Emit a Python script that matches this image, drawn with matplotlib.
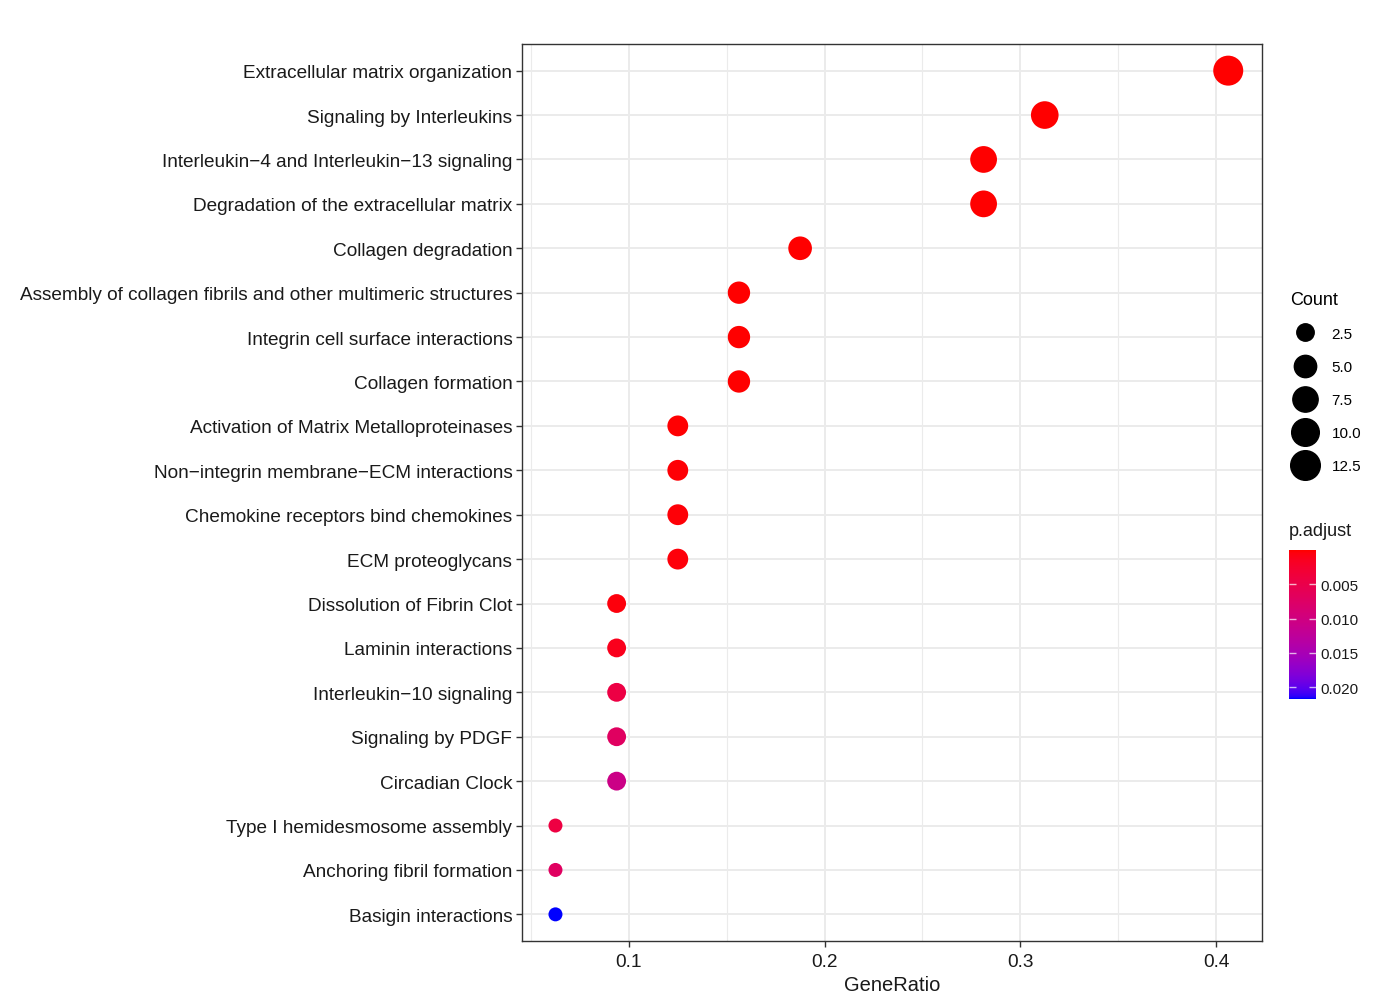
import numpy as np
import matplotlib
matplotlib.use('Agg')
import matplotlib.pyplot as plt
from matplotlib.colors import ListedColormap, Normalize
from matplotlib.lines import Line2D

plt.rcParams['font.family'] = ['Liberation Sans', 'DejaVu Sans']

# data
terms = ['Extracellular matrix organization', 'Signaling by Interleukins',
         'Interleukin\u22124 and Interleukin\u221213 signaling',
         'Degradation of the extracellular matrix', 'Collagen degradation',
         'Assembly of collagen fibrils and other multimeric structures',
         'Integrin cell surface interactions', 'Collagen formation',
         'Activation of Matrix Metalloproteinases',
         'Non\u2212integrin membrane\u2212ECM interactions',
         'Chemokine receptors bind chemokines', 'ECM proteoglycans',
         'Dissolution of Fibrin Clot', 'Laminin interactions',
         'Interleukin\u221210 signaling', 'Signaling by PDGF', 'Circadian Clock',
         'Type I hemidesmosome assembly', 'Anchoring fibril formation',
         'Basigin interactions']
counts = [13, 10, 9, 9, 6, 5, 5, 5, 4, 4, 4, 4, 3, 3, 3, 3, 3, 2, 2, 2]
gene_ratio = [c / 32 for c in counts]
p_adjust = [1e-9, 1e-7, 2e-6, 5e-6, 1e-5, 3e-5, 5e-5, 6e-5, 1e-4, 2e-4, 3e-4, 4e-4,
            0.0005, 0.0012, 0.0044, 0.0070, 0.0106, 0.0042, 0.0070, 0.0217]
size_breaks = [2.5, 5.0, 7.5, 10.0, 12.5]
cbar_ticks = [0.005, 0.010, 0.015, 0.020]

# red -> blue gradient interpolated in CIELAB (like ggplot)
M = np.array([[0.4124, 0.3576, 0.1805], [0.2126, 0.7152, 0.0722], [0.0193, 0.1192, 0.9505]])
WHITE = np.array([0.95047, 1.0, 1.08883])
def srgb_to_lab(rgb):
    rgb = np.asarray(rgb, float)
    lin = np.where(rgb <= 0.04045, rgb / 12.92, ((rgb + 0.055) / 1.055) ** 2.4)
    xyz = M @ lin / WHITE
    f = np.where(xyz > 0.008856, np.cbrt(xyz), 7.787 * xyz + 16 / 116)
    return np.array([116 * f[1] - 16, 500 * (f[0] - f[1]), 200 * (f[1] - f[2])])
def lab_to_srgb(lab):
    L, a, b = lab
    fy = (L + 16) / 116
    f = np.array([fy + a / 500, fy, fy - b / 200])
    xyz = np.where(f ** 3 > 0.008856, f ** 3, (f - 16 / 116) / 7.787) * WHITE
    lin = np.linalg.solve(M, xyz)
    lin = np.clip(lin, 0, 1)
    rgb = np.where(lin <= 0.0031308, 12.92 * lin, 1.055 * lin ** (1 / 2.4) - 0.055)
    return np.clip(rgb, 0, 1)
lab_r, lab_b = srgb_to_lab([1, 0, 0]), srgb_to_lab([0, 0, 1])
cmap = ListedColormap([lab_to_srgb(lab_r + t * (lab_b - lab_r)) for t in np.linspace(0, 1, 256)])
norm = Normalize(vmin=0, vmax=max(p_adjust))

cmin, cmax = min(counts), max(counts)
def dsize(c):
    d_px = 14 + 16 * np.sqrt(max(c - cmin, 0) / (cmax - cmin))
    return (d_px * 0.72) ** 2

fig = plt.figure(figsize=(13.8, 9.95), dpi=100)
ax = fig.add_axes([522/1380, 1-942/995, 740/1380, 897/995])
y = np.arange(len(terms))
ax.scatter(gene_ratio, y, s=[dsize(c) for c in counts], c=p_adjust, cmap=cmap,
           norm=norm, zorder=3, linewidths=0)
ax.set_ylim(len(terms) - 0.4, -0.6)
ax.set_xlim(0.0454, 0.4235)
ax.set_yticks(y)
ax.set_yticklabels(terms)
ax.set_xticks([0.1, 0.2, 0.3, 0.4])
ax.set_xticklabels(['0.1', '0.2', '0.3', '0.4'])
ax.set_xticks([0.05, 0.15, 0.25, 0.35], minor=True)
ax.grid(True, which='major', color='#EBEBEB', lw=1.4, zorder=0)
ax.grid(True, which='minor', axis='x', color='#EBEBEB', lw=0.8, zorder=0)
ax.set_axisbelow(True)
ax.tick_params(axis='both', which='major', labelsize=13.7, color='#333333',
               length=4, width=1, labelcolor='#1a1a1a', pad=3)
ax.tick_params(axis='x', which='major', pad=5)
ax.tick_params(axis='x', which='minor', length=0)
for sp in ax.spines.values():
    sp.set_color('#333333')
    sp.set_linewidth(1)
ax.set_xlabel('GeneRatio', fontsize=14.5, color='#1a1a1a', labelpad=3)

# size legend
handles = [Line2D([], [], ls='', marker='o', color='black',
                  markersize=np.sqrt(dsize(b))) for b in size_breaks]
leg = fig.legend(handles, [f'{b:.1f}' for b in size_breaks], title='Count',
                 loc='upper left', bbox_to_anchor=(1279/1380, 1-281/995),
                 frameon=False, fontsize=11, title_fontsize=13,
                 labelspacing=1.25, handletextpad=0.75, borderpad=0.2,
                 alignment='left')

# colour bar
cax = fig.add_axes([1289/1380, 1-700/995, 27/1380, 149/995])
sm = plt.cm.ScalarMappable(norm=norm, cmap=cmap)
cb = fig.colorbar(sm, cax=cax, ticks=cbar_ticks)
cb.outline.set_visible(False)
cax.invert_yaxis()
cax.yaxis.set_ticks_position('both')
cax.tick_params(direction='in', color=(1, 1, 1, 0.7), length=5, width=1,
                labelsize=11, labelcolor='#1a1a1a', labelright=True, labelleft=False)
cax.set_yticklabels([f'{t:.3f}' for t in cbar_ticks])
fig.text(1289/1380, 1-531/995, 'p.adjust', fontsize=13, va='center', color='#1a1a1a')

fig.savefig('out.png', dpi=100)
